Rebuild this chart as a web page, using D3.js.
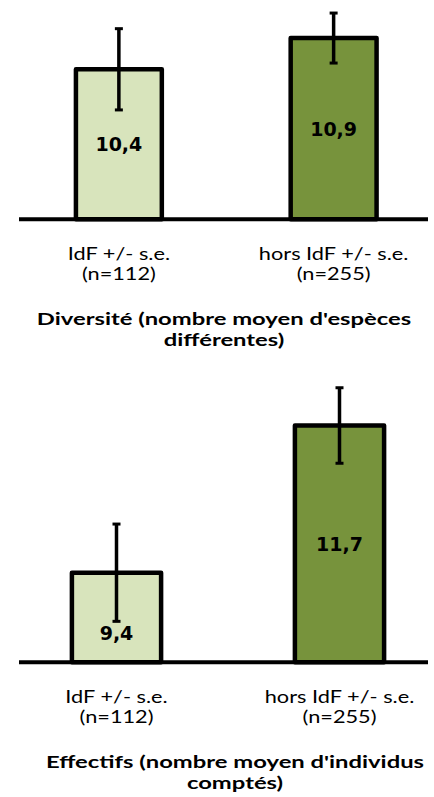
<!DOCTYPE html>
<html>
<head>
<meta charset="utf-8">
<script src="https://cdn.jsdelivr.net/npm/d3@7"></script>
<style>
  html, body { margin: 0; padding: 0; background: #fff; }
  svg { display: block; }
</style>
</head>
<body>
<svg id="chart" width="434" height="797"></svg>
<script>
// Group labels (shared by both panels)
const categories = ["IdF +/- s.e.", "hors IdF +/- s.e."];
const sampleSizes = ["(n=112)", "(n=255)"];

// Diversité : mean number of different species, with standard error
const diversiteMeans = [10.4, 10.9];
const diversiteSE = [0.65, 0.40];
const diversiteTitle = ["Diversité (nombre moyen d'espèces", "différentes)"];

// Effectifs : mean number of individuals counted, with standard error
const effectifsMeans = [9.4, 11.7];
const effectifsSE = [0.76, 0.59];
const effectifsTitle = ["Effectifs (nombre moyen d'individus", "comptés)"];

const barColors = ["#d8e4bc", "#77933c"];

const svg = d3.select("#chart");
const fmt = v => d3.format(".1f")(v).replace(".", ",");

const panels = [
  { means: diversiteMeans, se: diversiteSE, title: diversiteTitle,
    domain: [8, 11.5], baseY: 219.3, pxPerUnit: 62.5,
    xRange: [11.5, 441], titleX: 224 },
  { means: effectifsMeans, se: effectifsSE, title: effectifsTitle,
    domain: [8, 12.5], baseY: 662.3, pxPerUnit: 64,
    xRange: [5, 451], titleX: 235 }
];

const labelFont = "Lato, 'Open Sans', sans-serif";
const valueFont = "'DejaVu Sans', Verdana, sans-serif";
// the text in this figure is set in a horizontally widened face
const catStretch = 1.31;
const titleStretch = 1.40;

// draws one line of horizontally stretched, centred text
function stretchedText(parent, x, y, sx, str, size, weight) {
  parent.append("text")
    .attr("transform", `translate(${x},${y}) scale(${sx},1)`)
    .attr("text-anchor", "middle")
    .attr("font-family", labelFont)
    .attr("font-weight", weight)
    .attr("font-size", size)
    .attr("fill", "#000")
    .text(str);
}

panels.forEach(p => {
  const g = svg.append("g");
  const top = p.baseY - (p.domain[1] - p.domain[0]) * p.pxPerUnit;
  const y = d3.scaleLinear().domain(p.domain).range([p.baseY, top]);
  const x = d3.scaleBand().domain(categories).range(p.xRange)
    .paddingInner(0.6).paddingOuter(0.3);

  const rows = categories.map((c, i) => ({ cat: c, n: sampleSizes[i], v: p.means[i], se: p.se[i], color: barColors[i] }));
  const cx = d => x(d.cat) + x.bandwidth() / 2;

  // bars
  g.selectAll("rect.bar").data(rows).join("rect")
    .attr("class", "bar")
    .attr("x", d => x(d.cat))
    .attr("width", x.bandwidth())
    .attr("y", d => y(d.v))
    .attr("height", d => y(p.domain[0]) - y(d.v))
    .attr("fill", d => d.color)
    .attr("stroke", "#000")
    .attr("stroke-width", 4.5)
    .attr("stroke-linejoin", "round");

  // category axis line
  g.append("line")
    .attr("x1", 19).attr("x2", 428)
    .attr("y1", y(p.domain[0])).attr("y2", y(p.domain[0]))
    .attr("stroke", "#000").attr("stroke-width", 4);

  // error bars
  const eb = g.selectAll("g.err").data(rows).join("g").attr("class", "err");
  eb.append("line")
    .attr("x1", cx).attr("x2", cx)
    .attr("y1", d => y(d.v + d.se)).attr("y2", d => y(d.v - d.se))
    .attr("stroke", "#000").attr("stroke-width", 3.5);
  [1, -1].forEach(sign => {
    eb.append("line")
      .attr("x1", d => cx(d) - 4).attr("x2", d => cx(d) + 4)
      .attr("y1", d => y(d.v + sign * d.se))
      .attr("y2", d => y(d.v + sign * d.se))
      .attr("stroke", "#000").attr("stroke-width", 3);
  });

  // value labels, centred in the bar but kept below the lower error cap
  const half = 6.9;
  g.selectAll("text.val").data(rows).join("text")
    .attr("class", "val")
    .attr("x", cx)
    .attr("y", d => {
      const mid = (y(d.v) + y(p.domain[0])) / 2;
      const minMid = y(d.v - d.se) + 5 + half;
      return Math.max(mid, minMid) + half;
    })
    .attr("text-anchor", "middle")
    .attr("font-family", valueFont)
    .attr("font-weight", "bold")
    .attr("font-size", 19)
    .attr("fill", "#000")
    .text(d => fmt(d.v));

  // category labels
  rows.forEach(d => {
    stretchedText(g, cx(d), p.baseY + 40.7, catStretch, d.cat, 16.6, "normal");
    stretchedText(g, cx(d), p.baseY + 60.5, catStretch, d.n, 16.6, "normal");
  });

  // panel title
  p.title.forEach((line, i) => {
    stretchedText(g, p.titleX, p.baseY + 105.7 + i * 20.5, titleStretch, line, 17, "bold");
  });
});
</script>
</body>
</html>
